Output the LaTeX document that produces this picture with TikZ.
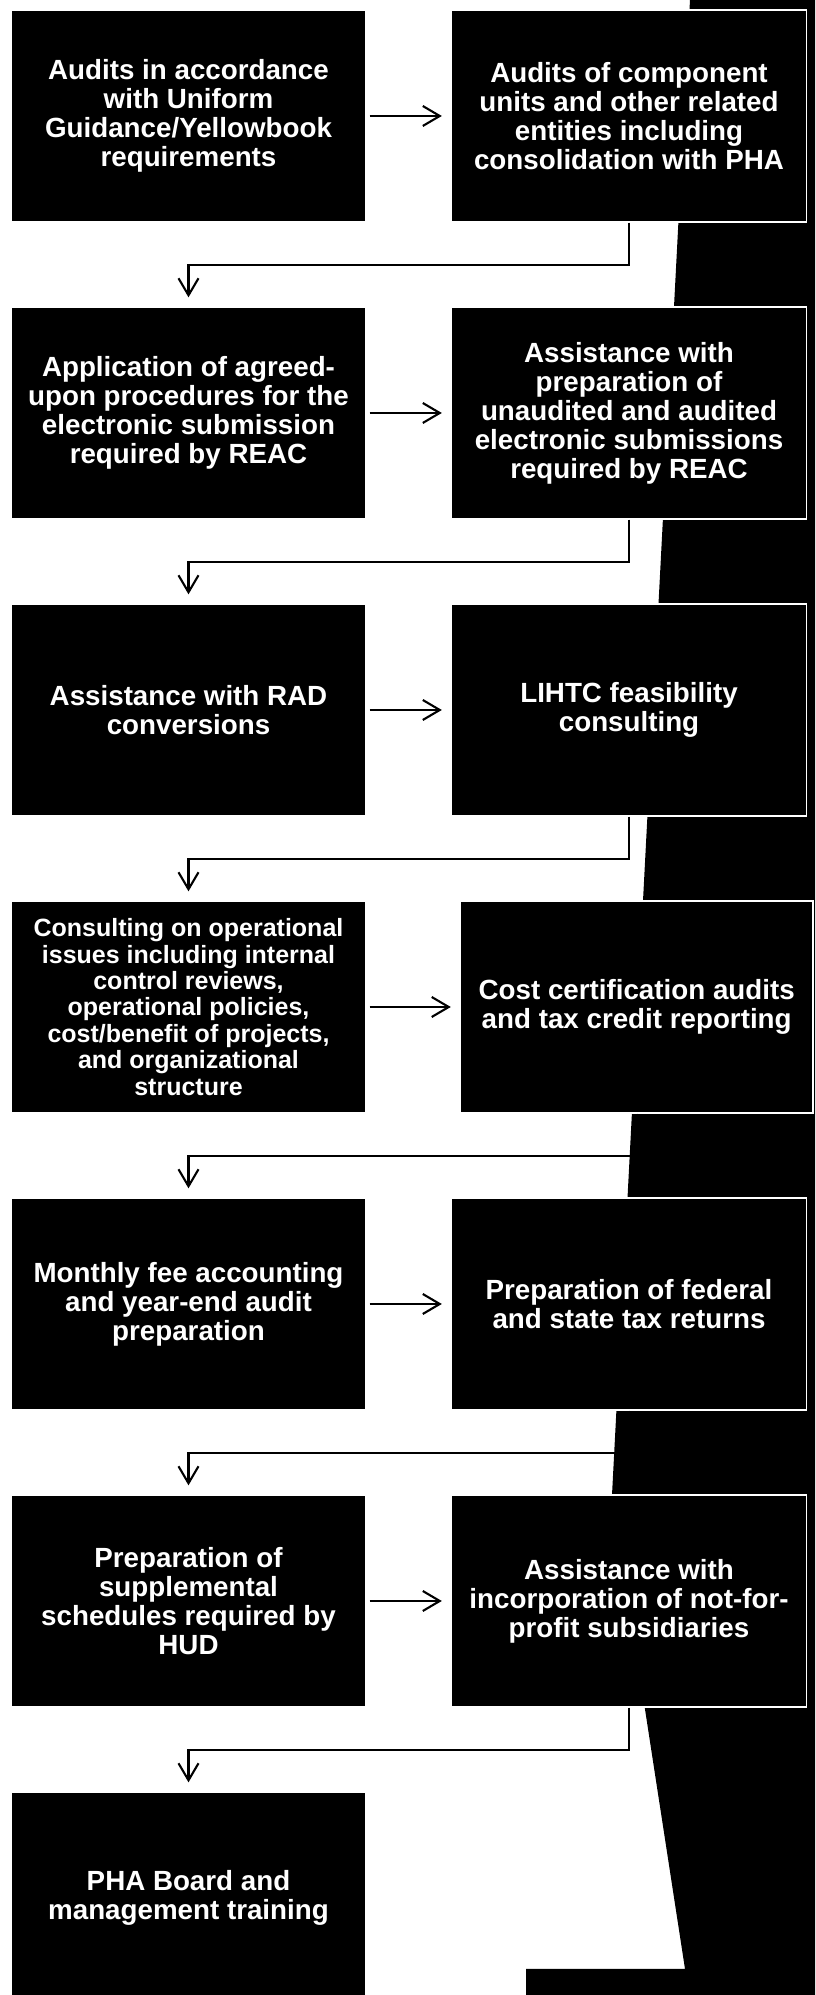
\documentclass[tikz,border=0pt]{standalone}
\usepackage{fontspec}
\setsansfont{Liberation Sans}
\usetikzlibrary{arrows.meta}

\begin{document}
\begin{tikzpicture}[
        x=1pt, y=1pt,
        >={Straight Barb[length=17pt, width=20pt]},
        service box/.style={draw=white, line width=1.3pt, fill=black, text=white, align=center,
            minimum width=355pt, minimum height=212pt, inner sep=0pt,
            font=\sffamily\bfseries\fontsize{27.75}{29}\selectfont},
        long text/.style={font=\sffamily\bfseries\fontsize{25}{26.4}\selectfont},
        link/.style={->, line width=2.1pt, shorten <=3pt, shorten >=9pt},
        drop/.style={->, line width=2.1pt, shorten >=9pt},
    ]

    % Page frame
    \path[use as bounding box] (0,0) rectangle (815,1995);
    \clip (0,0) rectangle (815,1995);

    % Dark scan area on the right
    \fill[black] (690,1995) -- (612,500) -- (685,26) -- (526,26) -- (526,0) -- (815,0) -- (815,1995) -- cycle;

    % Left column
    \node[service box] (audits) at (188.5,1879) {Audits in accordance\\with Uniform\\Guidance/Yellowbook\\requirements};
    \node[service box] (agreed) at (188.5,1582) {Application of agreed-\\upon procedures for the\\electronic submission\\required by REAC};
    \node[service box] (rad) at (188.5,1285) {Assistance with RAD\\conversions};
    \node[service box, long text] (consulting) at (188.5,988) {Consulting on operational\\issues including internal\\control reviews,\\operational policies,\\cost/benefit of projects,\\and organizational\\structure};
    \node[service box] (monthly) at (188.5,691) {Monthly fee accounting\\and year-end audit\\preparation};
    \node[service box] (supplemental) at (188.5,394) {Preparation of\\supplemental\\schedules required by\\HUD};
    \node[service box] (training) at (188.5,97) {PHA Board and\\management training};

    % Right column
    \node[service box] (component) at (629,1879) {Audits of component\\units and other related\\entities including\\consolidation with PHA};
    \node[service box] (reac) at (629,1582) {Assistance with\\preparation of\\unaudited and audited\\electronic submissions\\required by REAC};
    \node[service box] (lihtc) at (629,1285) {LIHTC feasibility\\consulting};
    \node[service box, minimum width=352.5pt] (costcert) at (636.7,988) {Cost certification audits\\and tax credit reporting};
    \node[service box] (taxreturns) at (629,691) {Preparation of federal\\and state tax returns};
    \node[service box] (nonprofit) at (629,394) {Assistance with\\incorporation of not-for-\\profit subsidiaries};

    % Arrows left to right
    \draw[link] (audits) -- (component);
    \draw[link] (agreed) -- (reac);
    \draw[link] (rad) -- (lihtc);
    \draw[link] (consulting) -- (costcert);
    \draw[link] (monthly) -- (taxreturns);
    \draw[link] (supplemental) -- (nonprofit);

    % Arrows down to the next row
    \draw[drop] (component.south) -- ++(0,-42) -| (agreed.north);
    \draw[drop] (reac.south) -- ++(0,-42) -| (rad.north);
    \draw[drop] (lihtc.south) -- ++(0,-42) -| (consulting.north);
    \draw[drop] (costcert.south) -- ++(0,-42) -| (monthly.north);
    \draw[drop] (taxreturns.south) -- ++(0,-42) -| (supplemental.north);
    \draw[drop] (nonprofit.south) -- ++(0,-42) -| (training.north);

\end{tikzpicture}
\end{document}
